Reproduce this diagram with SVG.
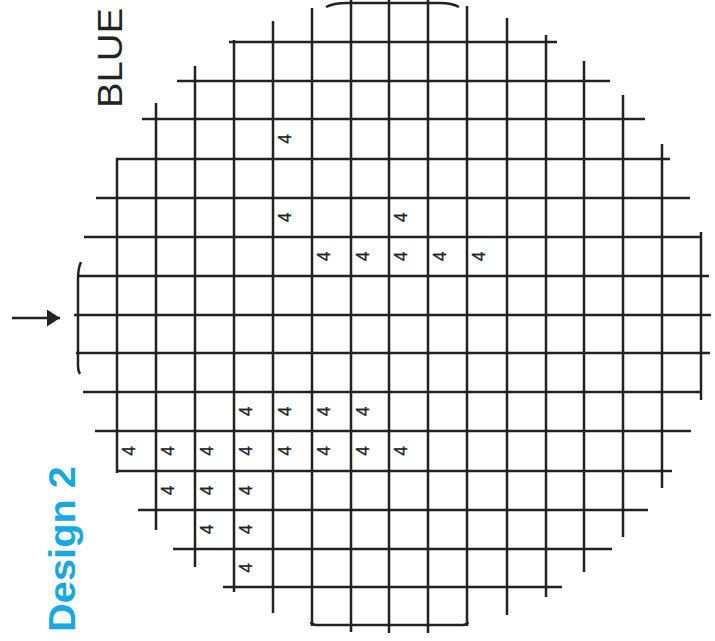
<svg xmlns="http://www.w3.org/2000/svg" width="715" height="641" viewBox="0 0 715 641">
<style>
.g line,.g path{stroke:#222;stroke-width:2.5;fill:none;stroke-linecap:butt}
.n{font-family:"Liberation Sans",Arial,sans-serif;font-size:17.5px;fill:#222;stroke:#222;stroke-width:0.3;text-anchor:middle;dominant-baseline:central}
.t{font-family:"Liberation Sans",Arial,sans-serif}
</style>
<defs>
<marker id="ah" markerWidth="14" markerHeight="18" refX="13" refY="8.5" orient="auto" markerUnits="userSpaceOnUse">
<path d="M0,0 L13,8.5 L0,17 Z" fill="#222"/>
</marker>
</defs>
<rect width="715" height="641" fill="#fff"/>
<g id="grid" class="g">
<path d="M81,262 Q78,268 78,280 L78,366 Q78,371 80,374"/>
<line x1="117" y1="158" x2="117" y2="473"/>
<line x1="156" y1="103" x2="156" y2="530"/>
<line x1="195" y1="66" x2="195" y2="567"/>
<line x1="234" y1="40" x2="234" y2="592"/>
<line x1="273" y1="21" x2="273" y2="613"/>
<line x1="312" y1="8" x2="312" y2="626"/>
<line x1="351" y1="0" x2="351" y2="632"/>
<line x1="389" y1="0" x2="389" y2="633"/>
<line x1="428" y1="0" x2="428" y2="633"/>
<line x1="467" y1="6" x2="467" y2="626"/>
<line x1="507" y1="18" x2="507" y2="615"/>
<line x1="546" y1="35" x2="546" y2="597"/>
<line x1="584" y1="61" x2="584" y2="572"/>
<line x1="623" y1="95" x2="623" y2="537"/>
<line x1="662" y1="144" x2="662" y2="488"/>
<line x1="701" y1="232" x2="701" y2="400"/>
<path d="M326,7 Q334,3 346,3 L440,3 Q452,3 459,7"/>
<line x1="229" y1="42" x2="557" y2="42"/>
<line x1="177" y1="81" x2="610" y2="81"/>
<line x1="142" y1="119" x2="645" y2="119"/>
<line x1="116" y1="159" x2="670" y2="159"/>
<line x1="96" y1="198" x2="690" y2="198"/>
<line x1="84" y1="237" x2="702" y2="237"/>
<line x1="77" y1="276" x2="709" y2="276"/>
<line x1="74" y1="315" x2="711" y2="315"/>
<line x1="76" y1="353" x2="710" y2="353"/>
<line x1="83" y1="392" x2="702" y2="392"/>
<line x1="95" y1="431" x2="691" y2="431"/>
<line x1="116" y1="471" x2="672" y2="471"/>
<line x1="138" y1="510" x2="648" y2="510"/>
<line x1="173" y1="549" x2="612" y2="549"/>
<line x1="223" y1="587" x2="562" y2="587"/>
<path d="M311,622 Q312,625 316,625 L463,625 Q467,625 468,622"/>
</g>
<g id="labels">
<text class="n" transform="translate(285,139) rotate(-90)">4</text>
<text class="n" transform="translate(285,217.5) rotate(-90)">4</text>
<text class="n" transform="translate(401,217.5) rotate(-90)">4</text>
<text class="n" transform="translate(324,256.5) rotate(-90)">4</text>
<text class="n" transform="translate(363,256.5) rotate(-90)">4</text>
<text class="n" transform="translate(401,256.5) rotate(-90)">4</text>
<text class="n" transform="translate(440,256.5) rotate(-90)">4</text>
<text class="n" transform="translate(479,256.5) rotate(-90)">4</text>
<text class="n" transform="translate(246,411.5) rotate(-90)">4</text>
<text class="n" transform="translate(285,411.5) rotate(-90)">4</text>
<text class="n" transform="translate(324,411.5) rotate(-90)">4</text>
<text class="n" transform="translate(363,411.5) rotate(-90)">4</text>
<text class="n" transform="translate(129,451) rotate(-90)">4</text>
<text class="n" transform="translate(168,451) rotate(-90)">4</text>
<text class="n" transform="translate(207,451) rotate(-90)">4</text>
<text class="n" transform="translate(246,451) rotate(-90)">4</text>
<text class="n" transform="translate(285,451) rotate(-90)">4</text>
<text class="n" transform="translate(324,451) rotate(-90)">4</text>
<text class="n" transform="translate(363,451) rotate(-90)">4</text>
<text class="n" transform="translate(401,451) rotate(-90)">4</text>
<text class="n" transform="translate(168,490.5) rotate(-90)">4</text>
<text class="n" transform="translate(207,490.5) rotate(-90)">4</text>
<text class="n" transform="translate(246,490.5) rotate(-90)">4</text>
<text class="n" transform="translate(207,529.5) rotate(-90)">4</text>
<text class="n" transform="translate(246,529.5) rotate(-90)">4</text>
<text class="n" transform="translate(246,568) rotate(-90)">4</text>
</g>
<g id="connectors">
<line x1="12" y1="318" x2="60" y2="318" stroke="#222" stroke-width="2.4" marker-end="url(#ah)"/>
</g>
<g id="title-blue">
<text class="t" transform="translate(122,108) rotate(-90)" font-size="35" fill="#222" textLength="100" lengthAdjust="spacingAndGlyphs">BLUE</text>
</g>
<g id="title-design">
<text class="t" transform="translate(75,632) rotate(-90)" font-size="36" font-weight="bold" fill="#19A8E0" textLength="166" lengthAdjust="spacingAndGlyphs">Design 2</text>
</g>
</svg>
